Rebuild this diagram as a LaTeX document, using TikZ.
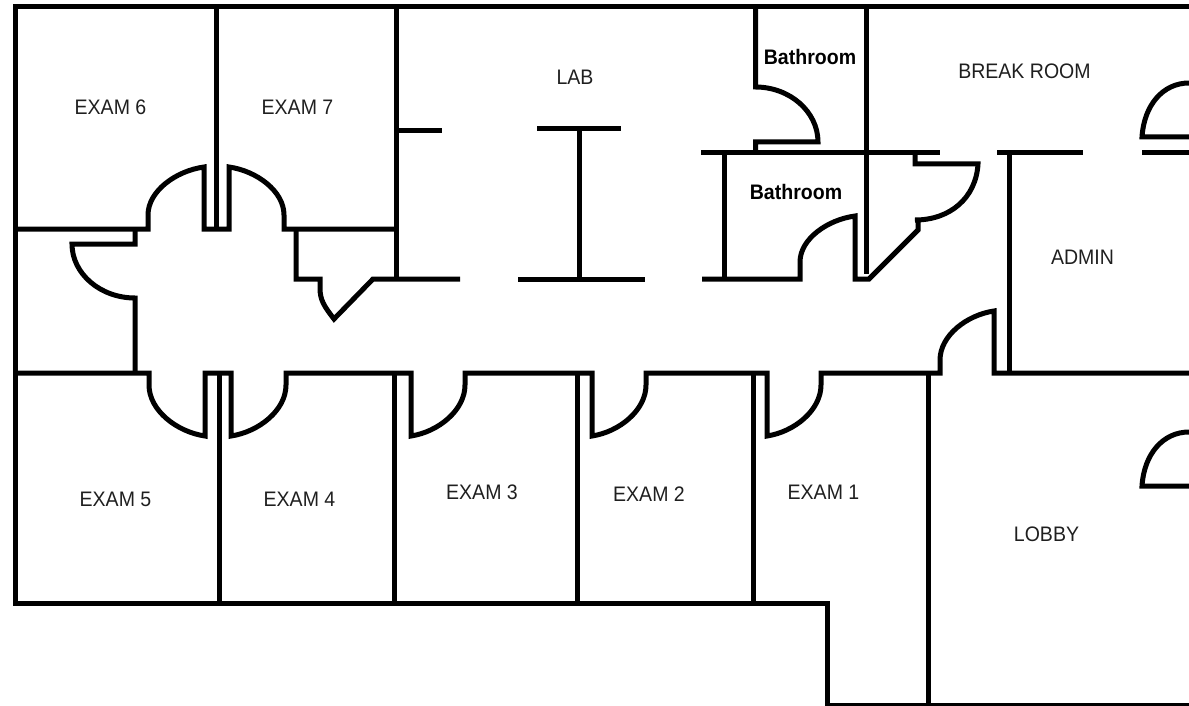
\documentclass[tikz,border=0pt]{standalone}
\usepackage{fontspec}
\setmainfont{Liberation Sans}
% round quarter curves
\def\vr(#1,#2)(#3,#4){.. controls (#1,{#2+.55*(#4-#2)}) and ({#1+.45*(#3-#1)},#4) .. (#3,#4)}
\def\hr(#1,#2)(#3,#4){.. controls ({#1+.55*(#3-#1)},#2) and (#3,{#2+.45*(#4-#2)}) .. (#3,#4)}
% flatter door curves with a slanted tip
\def\vq(#1,#2)(#3,#4){.. controls (#1,{#2+.5*(#4-#2)}) and ({#3-.5*(#3-#1)},{#4+.08*(#2-#4)}) .. (#3,#4)}
\def\hq(#1,#2)(#3,#4){.. controls ({#1+.5*(#3-#1)},{#2+.08*(#4-#2)}) and (#3,{#2+.5*(#4-#2)}) .. (#3,#4)}
\tikzset{
  wall/.style={draw=black,line width=5pt,miter limit=10},
  room/.style={font=\fontsize{21}{24}\selectfont,text=black!88,inner sep=0pt,xscale=.93},
  bath/.style={font=\fontsize{21}{24}\selectfont\bfseries,text=black,inner sep=0pt,xscale=.93}
}
\begin{document}
\begin{tikzpicture}[x=1pt,y=-1pt]
\useasboundingbox (0,0) rectangle (1189,706);
% outer walls
\draw[wall] (1189,7) -- (15.5,7) -- (15.5,603) -- (827,603) -- (827,705) -- (1189,705);
% upper exam rooms
\draw[wall] (216.5,7) -- (216.5,229);
\draw[wall] (15,229) -- (148,229) -- (148,215) \vq(148,215)(204,167) -- (204,229) -- (229,229) -- (229,167) \hq(229,167)(284,215) -- (284,229) -- (396,229);
% left closet
\draw[wall] (135,229) -- (135,244) -- (72,244) \vr(72,244)(135,298) -- (135,373);
% lower corridor wall with doors
\draw[wall] (15,373) -- (149,373) -- (149,385) \vq(149,385)(205,436) -- (205,373) -- (231,373) -- (231,436) \hq(231,436)(286,385) -- (286,373) -- (411,373) -- (411,436) \hq(411,436)(465,385) -- (465,373) -- (592,373) -- (592,436) \hq(592,436)(646,385) -- (646,373) -- (767,373) -- (767,436) \hq(767,436)(821,385) -- (821,373) -- (940,373) -- (940,360) \vq(940,360)(994,311) -- (994,373) -- (1189,373);
% lower partitions
\draw[wall] (219,373) -- (219,603);
\draw[wall] (394,373) -- (394,603);
\draw[wall] (577,373) -- (577,603);
\draw[wall] (753,373) -- (753,603);
\draw[wall] (928.5,373) -- (928.5,705);
% storage
\draw[wall] (296,229) -- (296,279) -- (320,279) -- (320,288) .. controls (320,300) and (324,306) .. (334,319) -- (373,279) -- (460,279);
\draw[wall] (396.5,7) -- (396.5,279);
% lab
\draw[wall] (396,131) -- (442,131);
\draw[wall] (537,129) -- (621,129);
\draw[wall] (579,129) -- (579,279);
\draw[wall] (518,279) -- (645,279);
% bathrooms
\draw[wall] (755.5,7) -- (755.5,87) \hr(755.5,87)(818,142) -- (755.5,142) -- (755.5,153);
\draw[wall] (701,153) -- (940,153);
\draw[wall] (866.5,7) -- (866.5,274);
\draw[wall] (724,153) -- (724,279);
\draw[wall] (702,279) -- (800,279) -- (800,262) \vq(800,262)(855,216) -- (855,279) -- (869,279) -- (918,230) -- (918,220) -- (915,220) .. controls (950,220) and (976,198) .. (978,164) -- (915,164) -- (915,153);
% admin / break room
\draw[wall] (997,153) -- (1083,153);
\draw[wall] (1009,153) -- (1009,373);
\draw[wall] (1189,83) .. controls (1163,83) and (1144,105) .. (1142,137) -- (1189,137);
\draw[wall] (1142,153) -- (1189,153);
% lobby door
\draw[wall] (1189,432) .. controls (1163,432) and (1144,454) .. (1142,486) -- (1189,486);
% labels
\node[room] (exam6) at (110.5,107) {EXAM 6};
\node[room] (exam7) at (297.5,107.5) {EXAM 7};
\node[room] (lab) at (575,77) {LAB};
\node[bath] (bath1) at (810,57) {Bathroom};
\node[bath] (bath2) at (796,192) {Bathroom};
\node[room] (break) at (1024.5,71) {BREAK ROOM};
\node[room] (admin) at (1082.5,257) {ADMIN};
\node[room] (exam5) at (115.5,499) {EXAM 5};
\node[room] (exam4) at (299.5,499) {EXAM 4};
\node[room] (exam3) at (482,492) {EXAM 3};
\node[room] (exam2) at (649,494) {EXAM 2};
\node[room] (exam1) at (823.5,492) {EXAM 1};
\node[room] (lobby) at (1046.5,534) {LOBBY};
\end{tikzpicture}
\end{document}
